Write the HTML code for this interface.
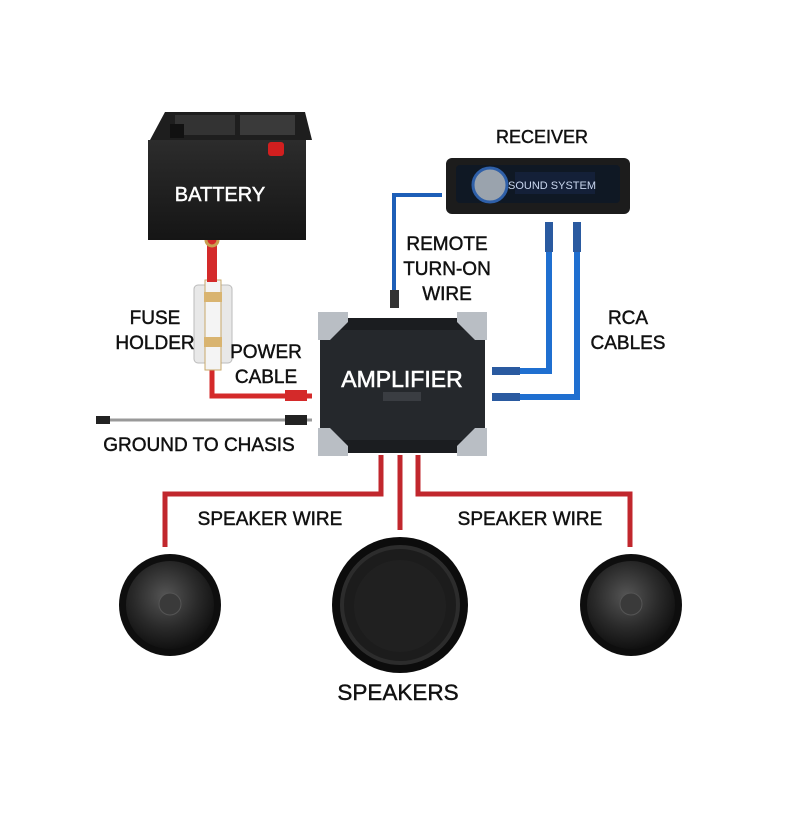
<!DOCTYPE html>
<html><head><meta charset="utf-8"><style>
body{margin:0;background:#fff}
svg{display:block}
text{font-family:"Liberation Sans",sans-serif;font-size:19px;fill:#111;stroke:#111;stroke-width:0.45px;text-anchor:middle}
</style></head><body>
<svg width="800" height="814" viewBox="0 0 800 814">
<defs>
<radialGradient id="cone" cx="45%" cy="40%" r="60%"><stop offset="0" stop-color="#555"/><stop offset="0.6" stop-color="#2a2a2a"/><stop offset="1" stop-color="#111"/></radialGradient>
<linearGradient id="bat" x1="0" y1="0" x2="0" y2="1"><stop offset="0" stop-color="#2c2c2c"/><stop offset="1" stop-color="#151515"/></linearGradient>
</defs>
<polyline points="212,240 212,396 312,396" fill="none" stroke="#d42a2a" stroke-width="5"/>
<line x1="100" y1="420" x2="312" y2="420" stroke="#999" stroke-width="3"/>
<rect x="96" y="416" width="14" height="8" fill="#222"/>
<polyline points="442,195 394,195 394,305" fill="none" stroke="#1d5fb8" stroke-width="4"/>
<rect x="390" y="290" width="9" height="18" fill="#333"/>
<polyline points="549,228 549,371 492,371" fill="none" stroke="#1f6fd0" stroke-width="6"/>
<polyline points="577,228 577,397 492,397" fill="none" stroke="#1f6fd0" stroke-width="6"/>
<rect x="545" y="222" width="8" height="30" fill="#2a5aa0"/><rect x="573" y="222" width="8" height="30" fill="#2a5aa0"/>
<rect x="492" y="367" width="28" height="8" fill="#2a5aa0"/><rect x="492" y="393" width="28" height="8" fill="#2a5aa0"/>
<g fill="none" stroke="#c1272d" stroke-width="5">
<polyline points="381,455 381,494 165,494 165,547"/>
<line x1="400" y1="455" x2="400" y2="530"/>
<polyline points="418,455 418,494 630,494 630,547"/>
</g>
<rect x="194" y="285" width="38" height="78" rx="4" fill="#e8e8e8" stroke="#bbb"/>
<rect x="205" y="280" width="16" height="90" fill="#f4f4f4" stroke="#c9a96a"/>
<rect x="204" y="292" width="18" height="10" fill="#d9b470"/><rect x="204" y="337" width="18" height="10" fill="#d9b470"/>
<rect x="207" y="232" width="10" height="50" fill="#d42a2a"/>
<circle cx="212" cy="240" r="6" fill="none" stroke="#c9a050" stroke-width="3"/>
<rect x="285" y="390" width="22" height="11" fill="#d42a2a"/>
<rect x="285" y="415" width="22" height="10" fill="#222"/>
<polygon points="165,112 305,112 312,140 150,140" fill="#1e1e1e"/>
<rect x="175" y="115" width="60" height="20" fill="#333"/><rect x="240" y="115" width="55" height="20" fill="#3a3a3a"/>
<rect x="148" y="140" width="158" height="100" fill="url(#bat)"/>
<rect x="268" y="142" width="16" height="14" rx="3" fill="#d21f1f"/>
<rect x="170" y="124" width="14" height="14" fill="#111"/>
<text x="220" y="201" style="fill:#fff;stroke:#fff;font-size:20px">BATTERY</text>
<rect x="446" y="158" width="184" height="56" rx="6" fill="#1c1c1c"/>
<rect x="456" y="165" width="164" height="38" rx="4" fill="#0f1824"/>
<circle cx="490" cy="185" r="17" fill="#9aa3ad" stroke="#2e5fa8" stroke-width="3"/>
<rect x="515" y="172" width="80" height="22" fill="#142038"/>
<text x="552" y="189" style="fill:#c9d6ee;stroke:none;font-size:11px">SOUND SYSTEM</text>
<rect x="320" y="318" width="165" height="135" rx="4" fill="#1b1d20"/>
<rect x="320" y="330" width="165" height="110" fill="#25282c"/>
<g fill="#b9bec4">
<polygon points="318,312 348,312 348,322 330,340 318,340"/>
<polygon points="487,312 457,312 457,322 475,340 487,340"/>
<polygon points="318,456 348,456 348,446 330,428 318,428"/>
<polygon points="487,456 457,456 457,446 475,428 487,428"/>
</g>
<rect x="383" y="392" width="38" height="9" fill="#3a3d42"/>
<text x="402" y="387" style="fill:#fff;stroke:#fff;stroke-width:0.6px;font-size:23px">AMPLIFIER</text>
<circle cx="170" cy="605" r="51" fill="#0e0e0e"/><circle cx="170" cy="605" r="44" fill="url(#cone)"/><circle cx="170" cy="604" r="11" fill="#3a3a3a" stroke="#555"/>
<circle cx="631" cy="605" r="51" fill="#0e0e0e"/><circle cx="631" cy="605" r="44" fill="url(#cone)"/><circle cx="631" cy="604" r="11" fill="#3a3a3a" stroke="#555"/>
<circle cx="400" cy="605" r="68" fill="#0c0c0c"/><circle cx="400" cy="605" r="58" fill="#1c1c1c" stroke="#2c2c2c" stroke-width="4"/><circle cx="400" cy="606" r="46" fill="#202020"/>
<text x="542" y="143" style="font-size:18px">RECEIVER</text>
<text x="155" y="324">FUSE</text><text x="155" y="349">HOLDER</text>
<text x="266" y="358">POWER</text><text x="266" y="383">CABLE</text>
<text x="199" y="451">GROUND TO CHASIS</text>
<text x="447" y="250">REMOTE</text><text x="447" y="275">TURN-ON</text><text x="447" y="300">WIRE</text>
<text x="628" y="324">RCA</text><text x="628" y="349">CABLES</text>
<text x="270" y="525">SPEAKER WIRE</text><text x="530" y="525">SPEAKER WIRE</text>
<text x="398" y="700" style="font-size:22.5px">SPEAKERS</text>
</svg>
</body></html>
